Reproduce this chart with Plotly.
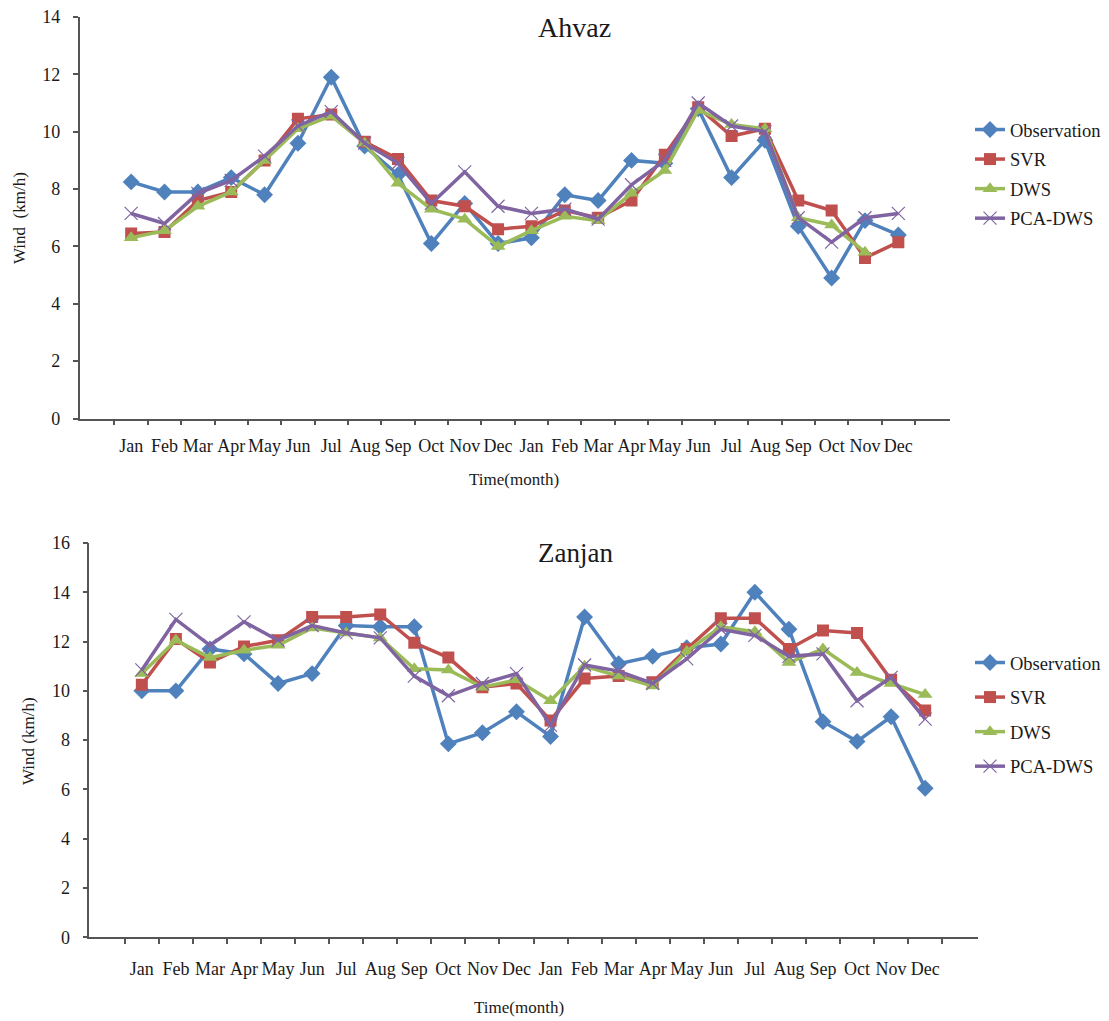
import plotly.graph_objects as go

months = ["Jan", "Feb", "Mar", "Apr", "May", "Jun", "Jul", "Aug", "Sep", "Oct", "Nov", "Dec"]
# two years of months; second year made distinct with a zero-width space
categories = months + [m + "\u200b" for m in months]

series_names = ["Observation", "SVR", "DWS", "PCA-DWS"]

ahvaz_obs = [8.25, 7.9, 7.9, 8.4, 7.8, 9.6, 11.9, 9.5, 8.5, 6.1, 7.5, 6.1,
             6.3, 7.8, 7.6, 9.0, 8.9, 10.8, 8.4, 9.7, 6.7, 4.9, 6.9, 6.4]
ahvaz_svr = [6.45, 6.5, 7.6, 7.9, 9.0, 10.45, 10.6, 9.65, 9.05, 7.6, 7.4, 6.6,
             6.7, 7.25, 7.0, 7.6, 9.2, 10.85, 9.85, 10.1, 7.6, 7.25, 5.6, 6.15]
ahvaz_dws = [6.3, 6.55, 7.4, 7.9, 9.0, 10.1, 10.55, 9.6, 8.2, 7.3, 6.95, 6.0,
             6.55, 7.05, 6.9, 7.85, 8.65, 10.75, 10.25, 10.1, 7.0, 6.75, 5.8, None]
ahvaz_pca = [7.15, 6.8, 7.85, 8.3, 9.15, 10.2, 10.7, 9.6, 8.9, 7.5, 8.6, 7.4,
             7.15, 7.3, 6.95, 8.15, 9.0, 11.0, 10.2, 10.0, 7.0, 6.15, 7.0, 7.15]

zanjan_obs = [10.0, 10.0, 11.7, 11.5, 10.3, 10.7, 12.65, 12.6, 12.6, 7.85, 8.3, 9.15,
              8.15, 13.0, 11.1, 11.4, 11.75, 11.9, 14.0, 12.5, 8.75, 7.95, 8.95, 6.05]
zanjan_svr = [10.25, 12.1, 11.15, 11.8, 12.05, 13.0, 13.0, 13.1, 11.95, 11.35, 10.15, 10.3,
              8.8, 10.5, 10.6, 10.35, 11.7, 12.95, 12.95, 11.7, 12.45, 12.35, 10.45, 9.2]
zanjan_dws = [10.7, 12.05, 11.35, 11.65, 11.85, 12.55, 12.35, 12.15, 10.9, 10.85, 10.15, 10.45,
              9.6, 11.0, 10.6, 10.2, 11.6, 12.6, 12.4, 11.15, 11.7, 10.75, 10.3, 9.85]
zanjan_pca = [10.85, 12.9, 11.85, 12.8, 12.05, 12.65, 12.35, 12.15, 10.6, 9.8, 10.3, 10.7,
              8.6, 11.05, 10.8, 10.3, 11.3, 12.5, 12.25, 11.4, 11.5, 9.6, 10.55, 8.85]

colors = ["#4F81BD", "#C0504D", "#9BBB59", "#8064A2"]
symbols = ["diamond", "square", "triangle-up", "x-thin"]
sizes = [13, 12, 13, 13]

FONT = "Liberation Serif, Times New Roman, serif"
TXT = "#1a1a1a"

fig = go.Figure()

def add_series(values_list, xa, ya, legend):
    for i, (name, vals) in enumerate(zip(series_names, values_list)):
        marker = dict(color=colors[i], size=sizes[i], symbol=symbols[i])
        if symbols[i] == "x-thin":
            marker["line"] = dict(color=colors[i], width=1.2)
        else:
            marker["line"] = dict(width=0)
        fig.add_trace(go.Scatter(
            x=categories, y=vals, name=name, mode="lines+markers",
            line=dict(color=colors[i], width=3.5),
            marker=marker, xaxis=xa, yaxis=ya, legend=legend,
            legendgroup=legend + name, connectgaps=False,
        ))

add_series([ahvaz_obs, ahvaz_svr, ahvaz_dws, ahvaz_pca], "x", "y", "legend")
add_series([zanjan_obs, zanjan_svr, zanjan_dws, zanjan_pca], "x2", "y2", "legend2")

W, H = 1109, 1021
OFF = 8  # page body margin offset

def px_x(p):
    return (p - OFF) / W

def px_y(p):
    return 1 - (p - OFF) / H

axis_common = dict(
    showgrid=False, zeroline=False, showline=True, linecolor="#555555", linewidth=1.5,
    ticks="outside", ticklen=5, tickcolor="#555555", tickwidth=1.5, automargin=False,
    tickfont=dict(family=FONT, size=18, color=TXT), ticklabeloverflow="allow",
)

fig.update_layout(
    width=W, height=H,
    margin=dict(l=0, r=0, t=0, b=0, autoexpand=False),
    paper_bgcolor="white", plot_bgcolor="white",
    font=dict(family=FONT, color=TXT),
    xaxis=dict(domain=[px_x(79.5), px_x(950)], type="category", tickson="boundaries", tickangle=0,
               categoryorder="array", categoryarray=categories, anchor="y",
               ticklabelstandoff=10, **axis_common),
    yaxis=dict(domain=[px_y(418.5), px_y(17)], range=[0, 14], dtick=2, anchor="x",
               ticklabelstandoff=9, **axis_common),
    xaxis2=dict(domain=[px_x(89.3), px_x(977.7)], type="category", tickson="boundaries", tickangle=0,
                categoryorder="array", categoryarray=categories, anchor="y2",
                ticklabelstandoff=14, **axis_common),
    yaxis2=dict(domain=[px_y(937.3), px_y(543)], range=[0, 16], dtick=2, anchor="x2",
                ticklabelstandoff=9, **axis_common),
    legend=dict(x=px_x(970), y=px_y(111), xanchor="left", yanchor="top",
                font=dict(family=FONT, size=18.5, color=TXT), tracegroupgap=2.5,
                bgcolor="rgba(0,0,0,0)"),
    legend2=dict(x=px_x(970), y=px_y(644), xanchor="left", yanchor="top",
                 font=dict(family=FONT, size=18.5, color=TXT), tracegroupgap=7.5,
                 bgcolor="rgba(0,0,0,0)"),
    showlegend=True,
)

annotations = [
    dict(text="Ahvaz", x=px_x(574.5), y=px_y(28), font=dict(size=28)),
    dict(text="Zanjan", x=px_x(575), y=px_y(553), font=dict(size=27)),
    dict(text="Time(month)", x=px_x(514), y=px_y(479), font=dict(size=17)),
    dict(text="Time(month)", x=px_x(519), y=px_y(1007), font=dict(size=17)),
    dict(text="Wind  (km/h)", x=px_x(19), y=px_y(218), font=dict(size=17), textangle=-90),
    dict(text="Wind (km/h)", x=px_x(28), y=px_y(741), font=dict(size=17), textangle=-90),
]
for a in annotations:
    a.update(xref="paper", yref="paper", showarrow=False, xanchor="center", yanchor="middle")
    a["font"].update(family=FONT, color=TXT)
fig.update_layout(annotations=annotations)

fig.write_html("out.html")
